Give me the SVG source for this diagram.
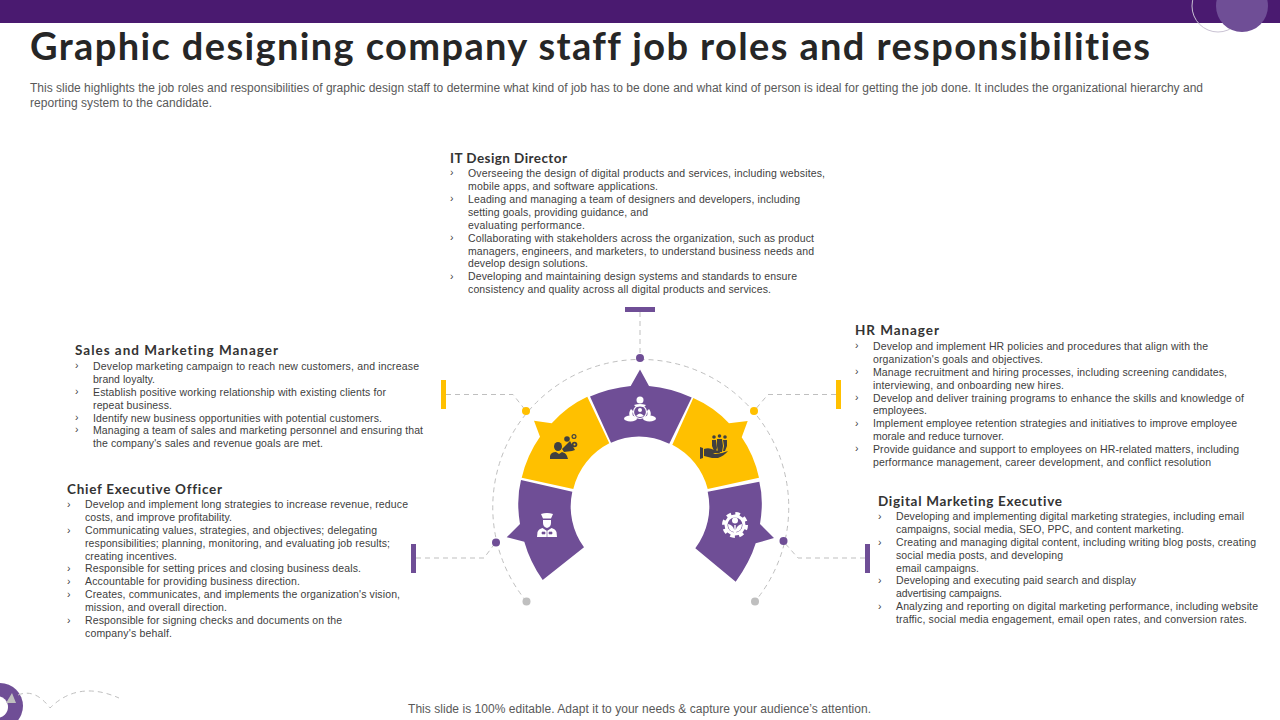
<svg xmlns="http://www.w3.org/2000/svg" width="1280" height="720" viewBox="0 0 1280 720">
<style>
text{font-family:"Liberation Sans",Arial,sans-serif;fill:#404040}
.t{font-family:Lato,"Liberation Sans",sans-serif;font-size:38px;font-weight:700;fill:#262626;font-variant-ligatures:none}
.h{font-family:Lato,"Liberation Sans",sans-serif;font-size:13.500px;font-weight:700;fill:#333;font-variant-ligatures:none}
.b{font-size:10.500px}
.d{font-size:12px;fill:#595959}
.c{fill:none;stroke:#bfbfbf;stroke-width:1;stroke-dasharray:5 4}
.p{fill:#6f4e96}
.y{fill:#ffc000}
.g{fill:#bfbfbf}
.iw{fill:#fff}
.ik{fill:#404040}
</style>
<rect width="1280" height="23" fill="#4a1a70"/>
<circle cx="1218" cy="6" r="26" fill="none" stroke="#c9c2d3"/>
<circle cx="1242" cy="6" r="26" fill="#6f4e96"/>
<text class="t" x="30" y="60" textLength="1120">Graphic designing company staff job roles and responsibilities</text>
<text class="d" x="30" y="92" textLength="1173">This slide highlights the job roles and responsibilities of graphic design staff to determine what kind of job has to be done and what kind of person is ideal for getting the job done. It includes the organizational hierarchy and</text>
<text class="d" x="30" y="107" textLength="182">reporting system to the candidate.</text>
<g id="connectors">
<path class="c" d="M526.500 601.500A148 148 0 1 1 755 601.500"/>
<path class="c" d="M640 312V358M446 394.500H513L526 411M836 394.500H768L754 411M416 558H484L496 542M865 558H798L783 541"/>
</g>
<g id="bars">
<rect class="p" x="625" y="307" width="30" height="5"/>
<rect class="y" x="441" y="380" width="5" height="29"/>
<rect class="y" x="836" y="380" width="5" height="29"/>
<rect class="p" x="411" y="544" width="5" height="29"/>
<rect class="p" x="865" y="544" width="5" height="29"/>
</g>
<g id="dots">
<circle class="p" cx="640" cy="358" r="4"/>
<circle class="y" cx="526" cy="411" r="4"/>
<circle class="y" cx="754" cy="411" r="4"/>
<circle class="p" cx="496" cy="542.500" r="4"/>
<circle class="p" cx="783.500" cy="541" r="4"/>
<circle class="g" cx="526.500" cy="601.500" r="4"/>
<circle class="g" cx="755" cy="601.500" r="4"/>
</g>
<g id="node-director">
<path class="p" d="M590 396.500Q610 388 630.700 386L640 369.500L649 386Q671 388 691.700 397.500L669.300 443.700Q640 430 611 442.700Z"/>
<circle class="iw" cx="640" cy="400" r="3.500"/>
<path class="iw" d="M634 405q6-2 12 0l-2 2q-4-1-8 0zM631 409l2 2q-1 3 0 5l-3 1q-2-4 1-8zM649 409l-2 2q1 3 0 5l3 1q2-4-1-8z"/>
<circle cx="640" cy="412" r="6.500" fill="none" stroke="#fff" stroke-width="1.200"/>
<circle class="iw" cx="640" cy="410" r="2"/>
<path class="iw" d="M636 416q4-5 8 0q-4 2-8 0z"/>
<ellipse class="iw" cx="630.500" cy="418.500" rx="6.500" ry="3"/>
<ellipse class="iw" cx="649.500" cy="418.500" rx="6.500" ry="3"/>
</g>
<g id="node-sales">
<path class="y" d="M587.300 396.700L609.300 443.300A69 69 0 0 0 573.300 489L521.700 477.700Q527 455 540 436.700L534 420.700L551.700 423.300Q567 406 587.300 396.700Z"/>
<ellipse class="ik" cx="558" cy="446.500" rx="4" ry="4.500"/>
<path class="ik" d="M550 459v-3q1-4 6-4l3 2 3-2q4 1 5 4l1 3z"/>
<path class="ik" d="M562 449l2 3 8-1 3-1-5-9-3 3z"/>
<circle cx="567" cy="439" r="2.800" class="ik"/><circle cx="574" cy="436.500" r="2.500" class="ik"/><circle cx="574" cy="436.500" r="1.300" class="y"/>
<circle cx="574.500" cy="444.500" r="2.800" class="ik"/><circle cx="574.500" cy="444.500" r="1" class="y"/>
</g>
<g id="node-hr">
<path class="y" d="M693.300 398L672.300 444.700A69 69 0 0 1 707.700 489L759 477.700Q754 455 741.700 437.300L747.700 421L729 423.300Q714 407 693.300 398Z"/>
<circle class="ik" cx="714" cy="437" r="1.800"/><circle class="ik" cx="719.500" cy="436" r="1.800"/><circle class="ik" cx="725" cy="437" r="1.800"/>
<path class="ik" d="M712 440h4l1 8-1 3h-2l-2-5zM717 439h5l1 7-1 6h-4l-1-6zM723 440h4v6l-2 5h-2l1-5z"/>
<path class="ik" d="M700 447l3 1v10l-3 1zM704 449q5-2 10 1l6 1q1 2-2 2h-5l2 1 7-1 6-2q-4 5-10 7h-6l-8-2z"/>
</g>
<g id="node-ceo">
<path class="p" d="M521 480L572.300 491.700A69 69 0 0 0 584 547.300L542.700 580Q530 562 524.300 541.700L506.700 537.300L520 524Q516 500 521 480Z"/>
<path class="iw" d="M541 514q6-2 12 0l-2 4.500h-8zM543 520h8v3q0 4-4 5q-4-1-4-5zM537 537l.5-5q1-3 5-4l4.500 3 4.500-3q4 1 5 4l.5 5z"/>
<path class="p" d="M542 532h3v2h-3zM549 532h3v2h-3zM547 531v6" stroke="#6f4e96" stroke-width=".6"/>
</g>
<g id="node-digital">
<path class="p" d="M759.300 481.700L707.700 491.700A69 69 0 0 1 695.300 548.300L735.700 581.700Q750 562 755.700 543.300L774 538L760 524Q764 500 759.300 481.700Z"/>
<circle cx="735" cy="525" r="11" fill="none" stroke="#fff" stroke-width="4" stroke-dasharray="4.500 4.140"/>
<circle class="iw" cx="735" cy="525" r="10.500"/>
<circle class="p" cx="735" cy="525" r="7.500"/>
<circle class="iw" cx="735" cy="520.500" r="3"/>
<path class="iw" d="M728 524q5 1 6.300 6v-5h1.400v5q1.300-5 6.300-6q0 7-6 8v3h-2v-3q-6-1-6-8z"/>
</g>
<g id="text-director">
<text class="h" x="450" y="163" textLength="117">IT Design Director</text>
<text class="b" x="450" y="176">›</text><text class="b" x="468" y="177" textLength="357">Overseeing the design of digital products and services, including websites,</text><text class="b" x="468" y="190" textLength="190">mobile apps, and software applications.</text>
<text class="b" x="450" y="202">›</text><text class="b" x="468" y="203" textLength="332">Leading and managing a team of designers and developers, including</text><text class="b" x="468" y="216" textLength="180">setting goals, providing guidance, and</text><text class="b" x="468" y="229" textLength="117">evaluating performance.</text>
<text class="b" x="450" y="241">›</text><text class="b" x="468" y="242" textLength="346">Collaborating with stakeholders across the organization, such as product</text><text class="b" x="468" y="255" textLength="346">managers, engineers, and marketers, to understand business needs and</text><text class="b" x="468" y="267" textLength="120">develop design solutions.</text>
<text class="b" x="450" y="280">›</text><text class="b" x="468" y="280" textLength="329">Developing and maintaining design systems and standards to ensure</text><text class="b" x="468" y="293" textLength="303">consistency and quality across all digital products and services.</text>
</g>
<g id="text-hr">
<text class="h" x="855" y="335" textLength="84">HR Manager</text>
<text class="b" x="855" y="349">›</text><text class="b" x="873" y="350" textLength="335">Develop and implement  HR policies and procedures that align with the</text><text class="b" x="873" y="363" textLength="170">organization's goals and objectives.</text>
<text class="b" x="855" y="375">›</text><text class="b" x="873" y="376" textLength="354">Manage recruitment and hiring processes, including screening candidates,</text><text class="b" x="873" y="389" textLength="191">interviewing, and onboarding new hires.</text>
<text class="b" x="855" y="401">›</text><text class="b" x="873" y="402" textLength="371">Develop and deliver training programs to enhance the skills and knowledge of</text><text class="b" x="873" y="414" textLength="54">employees.</text>
<text class="b" x="855" y="427">›</text><text class="b" x="873" y="427" textLength="364">Implement  employee retention strategies and initiatives to improve employee</text><text class="b" x="873" y="440" textLength="131">morale and reduce turnover.</text>
<text class="b" x="855" y="452">›</text><text class="b" x="873" y="453" textLength="366">Provide guidance and support to employees on HR-related matters, including</text><text class="b" x="873" y="466" textLength="338">performance management,  career development,  and conflict resolution</text>
</g>
<g id="text-sales">
<text class="h" x="75" y="355" textLength="203">Sales and Marketing Manager</text>
<text class="b" x="75" y="369">›</text><text class="b" x="93" y="370" textLength="326">Develop marketing campaign to reach new customers, and increase</text><text class="b" x="93" y="383" textLength="62">brand loyalty.</text>
<text class="b" x="75" y="395">›</text><text class="b" x="93" y="396" textLength="293">Establish positive working relationship with existing clients for</text><text class="b" x="93" y="409" textLength="79">repeat business.</text>
<text class="b" x="75" y="421">›</text><text class="b" x="93" y="422" textLength="289">Identify new business opportunities with potential customers.</text>
<text class="b" x="75" y="433">›</text><text class="b" x="93" y="434" textLength="330">Managing a team of sales and marketing personnel and ensuring that</text><text class="b" x="93" y="447" textLength="230">the company's sales and revenue goals are met.</text>
</g>
<g id="text-ceo">
<text class="h" x="67" y="494" textLength="155">Chief Executive Officer</text>
<text class="b" x="67" y="508">›</text><text class="b" x="85" y="508" textLength="323">Develop and implement  long strategies to increase revenue, reduce</text><text class="b" x="85" y="521" textLength="147">costs, and improve profitability.</text>
<text class="b" x="67" y="534">›</text><text class="b" x="85" y="534" textLength="292">Communicating  values, strategies, and objectives; delegating</text><text class="b" x="85" y="547" textLength="305">responsibilities; planning,  monitoring,  and evaluating job results;</text><text class="b" x="85" y="560" textLength="92">creating incentives.</text>
<text class="b" x="67" y="572">›</text><text class="b" x="85" y="572" textLength="276">Responsible for setting prices and closing business deals.</text>
<text class="b" x="67" y="585">›</text><text class="b" x="85" y="585" textLength="215">Accountable for providing business direction.</text>
<text class="b" x="67" y="598">›</text><text class="b" x="85" y="598" textLength="315">Creates, communicates, and implements  the organization's vision,</text><text class="b" x="85" y="611" textLength="142">mission, and overall direction.</text>
<text class="b" x="67" y="624">›</text><text class="b" x="85" y="624" textLength="257">Responsible for signing checks and documents on the</text><text class="b" x="85" y="637" textLength="87">company's behalf.</text>
</g>
<g id="text-digital">
<text class="h" x="878" y="506" textLength="184">Digital Marketing Executive</text>
<text class="b" x="878" y="520">›</text><text class="b" x="896" y="520" textLength="348">Developing and implementing  digital marketing strategies, including email</text><text class="b" x="896" y="533" textLength="288">campaigns, social media,  SEO,  PPC,  and content marketing.</text>
<text class="b" x="878" y="546">›</text><text class="b" x="896" y="546" textLength="360">Creating and managing digital content, including writing blog posts, creating</text><text class="b" x="896" y="559" textLength="167">social media posts, and developing</text><text class="b" x="896" y="572" textLength="83">email campaigns.</text>
<text class="b" x="878" y="584">›</text><text class="b" x="896" y="584" textLength="240">Developing and executing paid search and display</text><text class="b" x="896" y="597" textLength="106">advertising campaigns.</text>
<text class="b" x="878" y="610">›</text><text class="b" x="896" y="610" textLength="362">Analyzing and reporting on digital marketing performance, including website</text><text class="b" x="896" y="623" textLength="351">traffic, social media engagement, email open rates, and conversion rates.</text>
</g>
<g id="deco">
<circle class="p" cx="0" cy="706" r="23"/>
<circle class="iw" cx="-3" cy="707" r="11"/>
<path class="g" d="M12 693L6 703L16 703z"/>
<path class="c" d="M18 695Q35 688 50 708Q78 680 119 698" stroke-dasharray="5 5"/>
</g>
<text x="408" y="713" font-size="12" style="fill:#595959" textLength="463">This slide is 100% editable. Adapt it to your needs &amp; capture your audience’s attention.</text>
</svg>
